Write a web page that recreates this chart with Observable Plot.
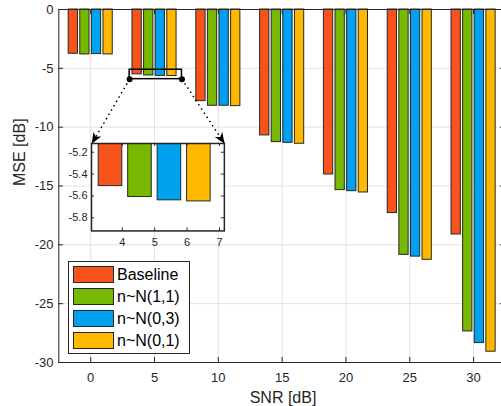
<!DOCTYPE html>
<html>
<head>
<meta charset="utf-8">
<script src="https://cdn.jsdelivr.net/npm/d3@7"></script>
<script src="https://cdn.jsdelivr.net/npm/@observablehq/plot@0.6"></script>
<style>
  html, body { margin: 0; padding: 0; background: #fff; }
  #chart { position: relative; width: 501px; height: 406px; overflow: hidden;
           font-family: "Liberation Sans", Arial, Helvetica, sans-serif; }
  #chart > svg, #chart > .legend { position: absolute; }
  .legend { left: 68px; top: 261px; width: 116px; background: #fff; border: 1px solid #262626;
            padding: 4px 0 4px 4px; box-sizing: content-box; }
  .legend .row { display: flex; align-items: center; height: 17px; margin-bottom: 5px; }
  .legend .row:last-child { margin-bottom: 0; }
  .legend .sw { width: 39px; height: 15px; border: 1px solid #262626; margin-right: 3px; flex: none; }
  .legend .lbl { font-size: 16px; line-height: 17px; color: #000; white-space: nowrap; }
</style>
</head>
<body>
<div id="chart"></div>
<script>
// SNR positions of the bar groups
const snr = [0, 5, 10, 15, 20, 25, 30];

// MSE [dB] per estimator
const seriesNames = ["Baseline", "n~N(1,1)", "n~N(0,3)", "n~N(0,1)"];
const baseline = [-3.76, -5.51, -7.79, -10.70, -14.02, -17.30, -19.12];
const noise11  = [-3.82, -5.61, -8.18, -11.27, -15.35, -20.85, -27.36];
const noise03  = [-3.79, -5.64, -8.18, -11.33, -15.44, -21.00, -28.35];
const noise01  = [-3.82, -5.65, -8.21, -11.41, -15.55, -21.27, -29.08];
const seriesColors = ["#F8531B", "#77B800", "#00A1EE", "#FFBA00"];

// axis ticks
const xTicks = [0, 5, 10, 15, 20, 25, 30];
const yTicks = [-30, -25, -20, -15, -10, -5, 0];
const zoomXTicks = [4, 5, 6, 7];
const zoomYTicks = [-5.8, -5.6, -5.4, -5.2];

// ---- layout ----
const W = 501, H = 406;
const xDomain = [-2.5, 32.5], yDomain = [-30, 0];
const xRange = [58.3, 505], yRange = [362, 9];
const zoomX = [3.05, 7.15], zoomY = [-5.92, -5.12];          // magnified window
const insetX = [0.08, 10.49], insetY = [-18.84, -11.41];     // where the magnified axes sit
const font = '"Liberation Sans", Arial, Helvetica, sans-serif';
const ink = "#262626";
const gridColor = "#e2e2e2";
const fmt = d => String(d);

// grouped bar geometry (same rule as MATLAB's grouped bar)
const seriesValues = [baseline, noise11, noise03, noise01];
const nSeries = seriesNames.length, groupSpacing = 5;
const groupWidth = Math.min(0.8, nSeries / (nSeries + 1.5)) * groupSpacing;
const barWidth = groupWidth / nSeries * 0.8;
const bars = [];
snr.forEach((s, j) => seriesValues.forEach((vals, i) => {
  const cx = s + (i - (nSeries - 1) / 2) * groupWidth / nSeries;
  bars.push({snr: s, series: seriesNames[i], x1: cx - barWidth / 2, x2: cx + barWidth / 2, value: vals[j]});
}));
const color = {domain: seriesNames, range: seriesColors};

const sx = d3.scaleLinear(xDomain, xRange);
const sy = d3.scaleLinear(yDomain, yRange);
const marginLeft = 58, marginTop = yRange[1], marginBottom = H - yRange[0];
const innerW = W - marginLeft, innerH = yRange[0] - yRange[1];
const tickLen = 5;

// connectors from the zoom box to the inset's top corners
const zoomBox = {x1: zoomX[0], x2: zoomX[1], y1: zoomY[0], y2: zoomY[1]};
const connectors = [
  {x: zoomX[0], y: zoomY[0], tx: insetX[0], ty: insetY[1]},
  {x: zoomX[1], y: zoomY[0], tx: insetX[1], ty: insetY[1]}
];

// filled, notched arrowhead with its tip at the origin
function arrowHead(angle) {
  const L = 11, Wd = 4.5, N = 3;
  const c = Math.cos(angle), s = Math.sin(angle);
  const pt = (u, v) => [u * c - v * s, u * s + v * c];
  return {
    draw(ctx) {
      const p = [pt(0, 0), pt(-L, Wd), pt(-L + N, 0), pt(-L, -Wd)];
      ctx.moveTo(p[0][0], p[0][1]);
      for (let k = 1; k < p.length; k++) ctx.lineTo(p[k][0], p[k][1]);
      ctx.closePath();
    }
  };
}
const heads = connectors.map(c => {
  const ang = Math.atan2(sy(c.ty) - sy(c.y), sx(c.tx) - sx(c.x));
  return Plot.dot([c], {x: "tx", y: "ty", symbol: arrowHead(ang), fill: "#000", stroke: "none"});
});

const rightVisible = Math.max(0, tickLen - (xRange[1] - W));

const main = Plot.plot({
  width: W, height: H,
  marginLeft, marginRight: 0, marginTop, marginBottom,
  x: {domain: xDomain, range: xRange, label: null},
  y: {domain: yDomain, range: yRange, label: null},
  color,
  style: {fontFamily: font, fontSize: "13px", color: ink, background: "#fff", overflow: "visible"},
  marks: [
    Plot.gridX(xTicks, {stroke: gridColor, strokeOpacity: 1}),
    Plot.gridY(yTicks, {stroke: gridColor, strokeOpacity: 1}),
    Plot.rect(bars, {x1: "x1", x2: "x2", y1: 0, y2: "value", fill: "series", stroke: ink, strokeWidth: 1}),
    Plot.tickX(xTicks, {x: d => d, insetTop: innerH - tickLen, stroke: ink}),
    Plot.tickX(xTicks, {x: d => d, insetBottom: innerH - tickLen, stroke: ink}),
    Plot.tickY(yTicks, {y: d => d, insetRight: innerW - tickLen, stroke: ink}),
    Plot.tickY(yTicks, {y: d => d, insetLeft: innerW - rightVisible, stroke: ink}),
    Plot.ruleY([yDomain[1], yDomain[0]], {stroke: ink}),
    Plot.ruleX([xDomain[0]], {stroke: ink}),
    Plot.axisX({ticks: xTicks, tickSize: 0, tickPadding: 10, tickFormat: fmt, label: null}),
    Plot.axisY({ticks: yTicks, tickSize: 0, tickPadding: 5, tickFormat: fmt, label: null}),
    Plot.rect([zoomBox], {x1: "x1", x2: "x2", y1: "y1", y2: "y2", fill: "none", stroke: "#000", strokeWidth: 1.5}),
    Plot.link(connectors, {x1: "x", y1: "y", x2: "tx", y2: "ty", stroke: "#000", strokeWidth: 1.5, strokeDasharray: "1.5,3.5"}),
    Plot.dot(connectors, {x: "x", y: "y", r: 3, fill: "#000", stroke: "none"}),
    ...heads,
    Plot.text(["MSE [dB]"], {text: d => d, frameAnchor: "left", dx: -39, rotate: -90, fontSize: 16, fill: ink}),
    Plot.text(["SNR [dB]"], {text: d => d, frameAnchor: "bottom", dx: 3, dy: 40, fontSize: 16, fill: ink})
  ]
});

// magnified view of the SNR = 5 group
const im = {left: 32, right: 4, top: 4, bottom: 20};
const fx0 = sx(insetX[0]), fx1 = sx(insetX[1]);
const fy0 = sy(insetY[1]), fy1 = sy(insetY[0]);
const iW = fx1 - fx0, iH = fy1 - fy0;
const iTick = 3;
const inset = Plot.plot({
  width: iW + im.left + im.right, height: iH + im.top + im.bottom,
  marginLeft: im.left, marginRight: im.right, marginTop: im.top, marginBottom: im.bottom,
  x: {domain: zoomX, label: null},
  y: {domain: zoomY, label: null},
  color,
  style: {fontFamily: font, fontSize: "11px", color: ink, background: "transparent", overflow: "visible"},
  marks: [
    Plot.frame({fill: "#fff", stroke: "none"}),
    Plot.rect(bars.filter(b => b.x2 > zoomX[0] && b.x1 < zoomX[1]),
      {x1: "x1", x2: "x2", y1: 0, y2: "value", fill: "series", stroke: ink, strokeWidth: 1, clip: true}),
    Plot.tickX(zoomXTicks, {x: d => d, insetTop: iH - iTick, stroke: ink}),
    Plot.tickX(zoomXTicks, {x: d => d, insetBottom: iH - iTick, stroke: ink}),
    Plot.tickY(zoomYTicks, {y: d => d, insetRight: iW - iTick, stroke: ink}),
    Plot.tickY(zoomYTicks, {y: d => d, insetLeft: iW - iTick, stroke: ink}),
    Plot.frame({stroke: ink, strokeWidth: 1.5, fill: "none"}),
    Plot.axisX({ticks: zoomXTicks, tickSize: 0, tickPadding: 7, tickFormat: fmt, label: null}),
    Plot.axisY({ticks: zoomYTicks, tickSize: 0, tickPadding: 4, tickFormat: fmt, label: null})
  ]
});

const chart = document.getElementById("chart");
main.style.left = "0px";
main.style.top = "0px";
chart.appendChild(main);
inset.style.left = (fx0 - im.left) + "px";
inset.style.top = (fy0 - im.top) + "px";
chart.appendChild(inset);

// legend
const legend = document.createElement("div");
legend.className = "legend";
seriesNames.forEach((name, i) => {
  const row = document.createElement("div");
  row.className = "row";
  const sw = document.createElement("span");
  sw.className = "sw";
  sw.style.background = seriesColors[i];
  const lbl = document.createElement("span");
  lbl.className = "lbl";
  lbl.textContent = name;
  row.appendChild(sw);
  row.appendChild(lbl);
  legend.appendChild(row);
});
chart.appendChild(legend);
</script>
</body>
</html>
